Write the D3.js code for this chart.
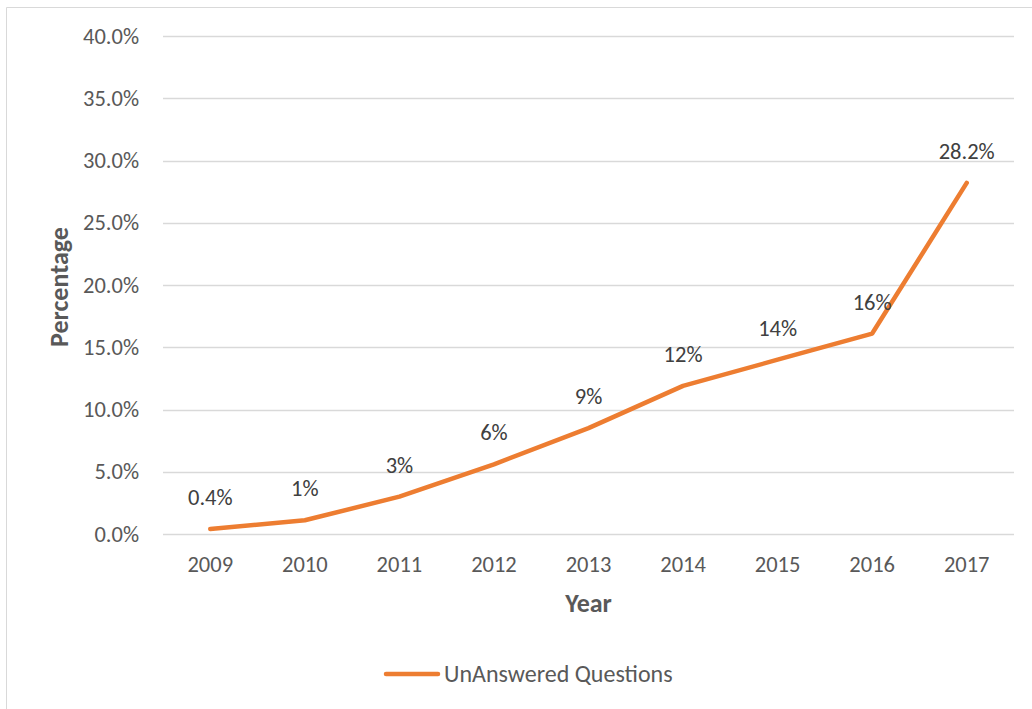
<!DOCTYPE html>
<html>
<head>
<meta charset="utf-8">
<script src="https://cdn.jsdelivr.net/npm/d3@7/dist/d3.min.js"></script>
<style>
  html, body { margin: 0; padding: 0; background: #fff; }
  svg text { font-family: Carlito, Calibri, Lato, "Open Sans", sans-serif; }
</style>
</head>
<body>
<svg id="chart" width="1032" height="709"></svg>
<script>
// Share of unanswered questions per year (percent)
const years = ["2009", "2010", "2011", "2012", "2013", "2014", "2015", "2016", "2017"];
const unanswered = [0.4, 1.1, 3.0, 5.6, 8.5, 11.9, 14.0, 16.1, 28.2];
// decimals shown in each data label
const labelDecimals = [1, 0, 0, 0, 0, 0, 0, 0, 1];
const yTicks = [0, 5, 10, 15, 20, 25, 30, 35, 40];
const seriesName = "UnAnswered Questions";

const svg = d3.select("#chart");
const W = 1032, H = 709;
const plot = { left: 163, right: 1014, top: 36, bottom: 534 };
const orange = "#ED7D31";
const labelSize = "22.5px";

// chart frame
svg.append("path")
  .attr("d", `M${W},7.5 H6.5 V${H}`)
  .attr("fill", "none")
  .attr("stroke", "#d9d9d9")
  .attr("stroke-width", 1);

const x = d3.scaleBand().domain(years).range([plot.left, plot.right]);
const y = d3.scaleLinear().domain([0, 40]).range([plot.bottom, plot.top]);

// gridlines
svg.append("g")
  .selectAll("line")
  .data(yTicks)
  .join("line")
  .attr("x1", plot.left).attr("x2", plot.right)
  .attr("y1", d => Math.round(y(d)) + 0.5).attr("y2", d => Math.round(y(d)) + 0.5)
  .attr("stroke", "#d9d9d9")
  .attr("stroke-width", 1.5);

// y axis labels
const yAxis = d3.axisLeft(y).tickValues(yTicks).tickSize(0).tickPadding(24)
  .tickFormat(d => d3.format(".1f")(d) + "%");
svg.append("g")
  .attr("transform", `translate(${plot.left},0)`)
  .call(yAxis)
  .call(g => g.select(".domain").remove())
  .call(g => g.selectAll("text")
    .attr("fill", "#595959")
    .style("font-size", labelSize));

// x axis labels
const xAxis = d3.axisBottom(x).tickSize(0).tickPadding(22);
svg.append("g")
  .attr("transform", `translate(0,${plot.bottom})`)
  .call(xAxis)
  .call(g => g.select(".domain").remove())
  .call(g => g.selectAll("text")
    .attr("fill", "#595959")
    .style("font-size", labelSize));

// axis titles
svg.append("text")
  .attr("transform", `translate(68,${(plot.top + plot.bottom) / 2 + 2}) rotate(-90)`)
  .attr("text-anchor", "middle")
  .attr("fill", "#595959")
  .style("font-size", "26px")
  .style("font-weight", "bold")
  .text("Percentage");

svg.append("text")
  .attr("x", (plot.left + plot.right) / 2)
  .attr("y", 612)
  .attr("text-anchor", "middle")
  .attr("fill", "#595959")
  .style("font-size", "26px")
  .style("font-weight", "bold")
  .text("Year");

// series line
const pts = years.map((yr, i) => ({ yr, v: unanswered[i], dec: labelDecimals[i] }));
const line = d3.line()
  .x(d => x(d.yr) + x.bandwidth() / 2)
  .y(d => y(d.v));

svg.append("path")
  .datum(pts)
  .attr("d", line)
  .attr("fill", "none")
  .attr("stroke", orange)
  .attr("stroke-width", 4.5)
  .attr("stroke-linejoin", "round")
  .attr("stroke-linecap", "round");

// data labels
svg.append("g")
  .selectAll("text")
  .data(pts)
  .join("text")
  .attr("x", d => x(d.yr) + x.bandwidth() / 2)
  .attr("y", d => y(d.v) - 24)
  .attr("text-anchor", "middle")
  .attr("fill", "#404040")
  .style("font-size", labelSize)
  .text(d => d3.format("." + d.dec + "f")(d.v) + "%");

// legend
const lg = svg.append("g").attr("transform", "translate(0,674)");
lg.append("line")
  .attr("x1", 386).attr("x2", 438)
  .attr("y1", 0).attr("y2", 0)
  .attr("stroke", orange)
  .attr("stroke-width", 4.5)
  .attr("stroke-linecap", "round");
lg.append("text")
  .attr("x", 444)
  .attr("y", 0)
  .attr("dy", "0.35em")
  .attr("fill", "#595959")
  .style("font-size", "24px")
  .text(seriesName);
</script>
</body>
</html>
